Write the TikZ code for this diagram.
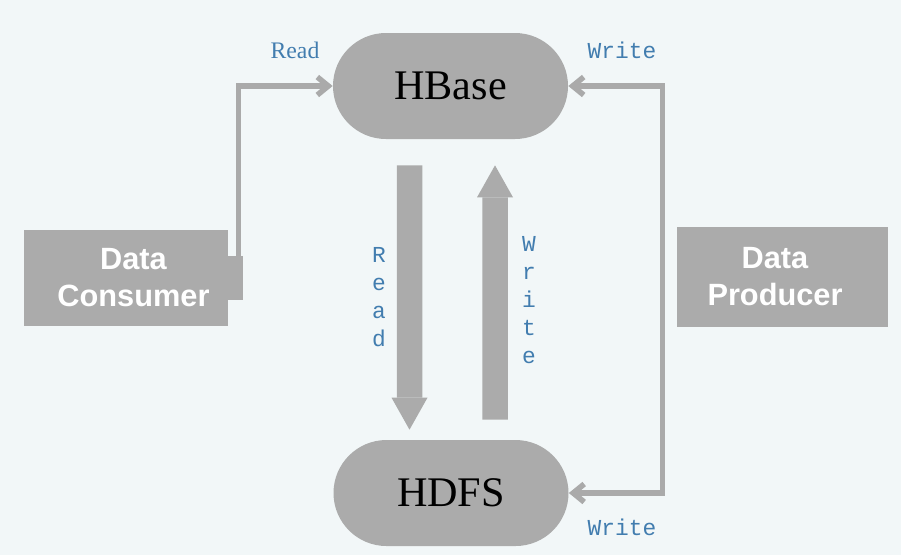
\documentclass[tikz,border=0pt]{standalone}
\usepackage{fontspec}
\newfontfamily\storefont{Liberation Serif}
\newfontfamily\boxfont{Liberation Sans}
\newfontfamily\labelfont{Liberation Mono}
\definecolor{pagebg}{RGB}{242,247,248}
\definecolor{boxgray}{RGB}{171,171,171}
\definecolor{linegray}{RGB}{170,170,170}
\definecolor{labelblue}{RGB}{66,125,175}
\usetikzlibrary{arrows.meta, positioning}

\begin{document}
\begin{tikzpicture}[
        store/.style={fill=boxgray, rounded corners=1.06cm, minimum width=4.7cm,
            minimum height=2.12cm, inner sep=0pt, font=\storefont\fontsize{24}{28}\selectfont},
        client/.style={fill=boxgray, text=white, align=center, inner sep=0pt,
            font=\boxfont\bfseries\fontsize{17.5}{21}\selectfont},
        conn/.style={draw=linegray, line width=0.11cm,
            -{Straight Barb[length=0.22cm, width=0.36cm]}},
        bigarrow/.style={draw=boxgray, line width=0.51cm,
            -{Triangle[length=0.64cm, width=0.72cm, line width=0pt]}},
        flowlabel/.style={text=labelblue, font=\labelfont\fontsize{13}{16}\selectfont},
        vlabel/.style={flowlabel, align=center}
    ]
    % Background
    \fill[pagebg] (0,0) rectangle (18.02,-11.1);
    \useasboundingbox (0,0) rectangle (18.02,-11.1);

    % Stores
    \node[store] (hbase) at (9.01,-1.72) {HBase};
    \node[store] (hdfs) at (9.02,-9.86) {HDFS};

    % Clients
    \node[client, minimum width=4.08cm, minimum height=1.92cm] (consumer) at (2.52,-5.56) {\hspace*{0.3cm}Data\\\hspace*{0.3cm}Consumer};
    \node[client, minimum width=4.22cm, minimum height=2.0cm] (producer) at (15.65,-5.54) {Data\hspace*{0.3cm}\\Producer\hspace*{0.3cm}};
    \fill[boxgray] ([yshift=0.44cm]consumer.east) rectangle ([xshift=0.3cm, yshift=-0.44cm]consumer.east);

    % Consumer reads from HBase
    \draw[conn] ([xshift=0.2cm, yshift=0.44cm]consumer.east) |- (hbase.west);
    \node[flowlabel, font=\storefont\fontsize{13.5}{16}\selectfont] (readtop) at (5.9,-1.0) {Read};

    % Producer writes to HBase and HDFS
    \coordinate (prodline) at ([xshift=-0.28cm]producer.west);
    \draw[conn] (prodline) |- (hbase.east);
    \draw[conn] (prodline) |- (hdfs.east);
    \node[flowlabel] (writetop) at (12.44,-1.0) {Write};
    \node[flowlabel] (writebottom) at (12.44,-10.54) {Write};

    % HBase <-> HDFS
    \draw[bigarrow, shorten <=0.52cm, shorten >=0.2cm]
        ([xshift=-0.82cm]hbase.south) -- ([xshift=-0.83cm]hdfs.north);
    \draw[bigarrow, shorten <=0.4cm, shorten >=0.52cm]
        ([xshift=0.88cm]hdfs.north) -- ([xshift=0.89cm]hbase.south);
    \node[vlabel] (readside) at (7.58,-5.94) {R\\e\\a\\d};
    \node[vlabel] (writeside) at (10.58,-6.0) {W\\r\\i\\t\\e};
\end{tikzpicture}
\end{document}
